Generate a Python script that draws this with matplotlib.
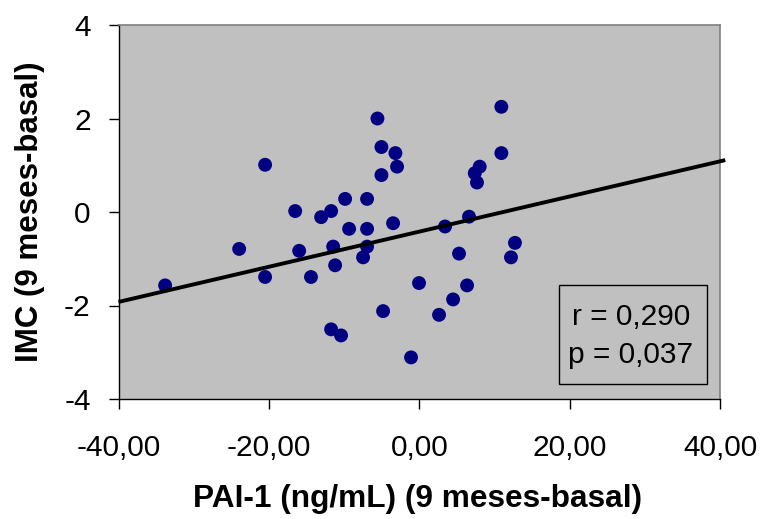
import matplotlib
matplotlib.use("Agg")
import matplotlib.pyplot as plt
from matplotlib.patches import Rectangle
import numpy as np

# Change in PAI-1 (ng/mL) vs change in BMI, 9 months minus baseline
pai1_delta = [-5.56, -5.03, -3.17, -2.95, -5.03, -20.5, -9.86, -6.94, -16.5, -11.72,
              -13.05, -9.33, -6.94, -3.48, -23.95, -15.97, -11.45, -6.94, -7.47, -11.19,
              -20.5, -14.4, -33.8, -0.03, -4.81, -11.72, -10.4, -1.09, 10.92, 10.92,
              8.04, 7.38, 7.68, 6.62, 3.43, 12.73, 12.2, 5.29, 6.36, 4.5, 2.63]
imc_delta = [2.00, 1.39, 1.26, 0.97, 0.79, 1.01, 0.28, 0.28, 0.02, 0.02,
             -0.11, -0.36, -0.36, -0.24, -0.79, -0.83, -0.74, -0.74, -0.97, -1.14,
             -1.39, -1.39, -1.57, -1.52, -2.12, -2.51, -2.64, -3.11, 2.25, 1.26,
             0.97, 0.83, 0.63, -0.10, -0.31, -0.66, -0.97, -0.89, -1.57, -1.87, -2.20]

# Linear trend line
trend_intercept = -0.42
trend_slope = 0.0376
trend_x = [-40.0, 40.7]

x_ticks = [-40, -20, 0, 20, 40]
x_ticklabels = ["-40,00", "-20,00", "0,00", "20,00", "40,00"]
y_ticks = [-4, -2, 0, 2, 4]
y_ticklabels = ["-4", "-2", "0", "2", "4"]

stats_lines = ["r = 0,290", "p = 0,037"]

plt.rcParams["font.family"] = ["Liberation Sans", "DejaVu Sans"]

fig = plt.figure(figsize=(7.62, 5.19), dpi=100)
fig.patch.set_facecolor("white")
ax = fig.add_axes([118.5 / 762, 120 / 519, 601.5 / 762, 374 / 519])
ax.set_facecolor("#C0C0C0")

ax.set_xlim(-40, 40)
ax.set_ylim(-4, 4)

ax.scatter(pai1_delta, imc_delta, s=100, color="#000080", edgecolors="none", zorder=3)

tx = np.array(trend_x)
ax.plot(tx, trend_intercept + trend_slope * tx, color="black", linewidth=2.8,
        solid_capstyle="butt", clip_on=False, zorder=4)

ax.set_xticks(x_ticks)
ax.set_xticklabels(x_ticklabels)
ax.set_yticks(y_ticks)
ax.set_yticklabels(y_ticklabels)
ax.tick_params(axis="both", direction="out", length=7.5, width=1, color="black",
               labelsize=21.5)
ax.tick_params(axis="x", pad=18)
ax.tick_params(axis="y", pad=12.5)

for side in ("top", "right"):
    ax.spines[side].set_color("#808080")
    ax.spines[side].set_linewidth(1.2)
for side in ("left", "bottom"):
    ax.spines[side].set_color("black")
    ax.spines[side].set_linewidth(1)

fig.text(30 / 762, (519 - 212) / 519, "IMC (9 meses-basal)", rotation=90,
         ha="center", va="center", fontsize=22.5, fontweight="bold")
fig.text(418 / 762, 20.5 / 519, "PAI-1 (ng/mL) (9 meses-basal)",
         ha="center", va="center", fontsize=22.8, fontweight="bold")

# Correlation statistics box
box = Rectangle((0.733, 0.040), 0.246, 0.265, transform=ax.transAxes,
                facecolor="#C0C0C0", edgecolor="black", linewidth=1, zorder=5)
ax.add_patch(box)
ax.text(0.852, 0.198, stats_lines[0], transform=ax.transAxes, ha="center",
        va="baseline", fontsize=21.5, zorder=6)
ax.text(0.852, 0.097, stats_lines[1], transform=ax.transAxes, ha="center",
        va="baseline", fontsize=21.5, zorder=6)

fig.savefig("out.png", dpi=100)
